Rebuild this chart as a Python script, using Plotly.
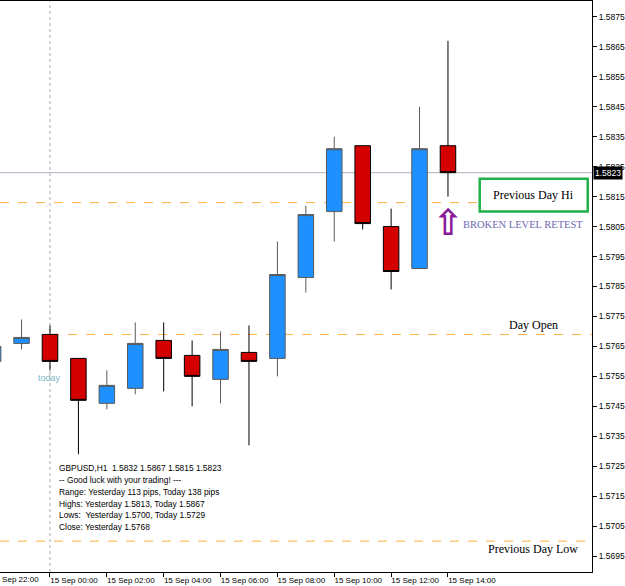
import plotly.graph_objects as go
import pandas as pd

# ---- data ----
times = ["2009-09-14 22:00", "2009-09-14 23:00", "2009-09-15 00:00", "2009-09-15 01:00",
         "2009-09-15 02:00", "2009-09-15 03:00", "2009-09-15 04:00", "2009-09-15 05:00",
         "2009-09-15 06:00", "2009-09-15 07:00", "2009-09-15 08:00", "2009-09-15 09:00",
         "2009-09-15 10:00", "2009-09-15 11:00", "2009-09-15 12:00", "2009-09-15 13:00",
         "2009-09-15 14:00"]
opens  = [1.5760, 1.5766, 1.5769, 1.5761, 1.5746, 1.5751, 1.5767, 1.5762, 1.5754,
          1.5763, 1.5761, 1.5788, 1.5810, 1.5832, 1.5805, 1.5791, 1.5832]
highs  = [1.5767, 1.5774, 1.5772, 1.5761, 1.5757, 1.5773, 1.5773, 1.5767, 1.5770,
          1.5772, 1.5800, 1.5812, 1.5835, 1.5832, 1.5811, 1.5845, 1.5867]
lows   = [1.5757, 1.5764, 1.5757, 1.5729, 1.5744, 1.5749, 1.5750, 1.5745, 1.5746,
          1.5732, 1.5755, 1.5783, 1.5800, 1.5804, 1.5784, 1.5791, 1.5815]
closes = [1.5765, 1.5768, 1.5760, 1.5747, 1.5752, 1.5766, 1.5761, 1.5755, 1.5764,
          1.5760, 1.5789, 1.5809, 1.5831, 1.5806, 1.5790, 1.5831, 1.5823]

x_tick_times = ["2009-09-14 22:00", "2009-09-15 00:00", "2009-09-15 02:00", "2009-09-15 04:00",
                "2009-09-15 06:00", "2009-09-15 08:00", "2009-09-15 10:00", "2009-09-15 12:00",
                "2009-09-15 14:00"]
x_tick_labels = ["14 Sep 22:00", "15 Sep 00:00", "15 Sep 02:00", "15 Sep 04:00",
                 "15 Sep 06:00", "15 Sep 08:00", "15 Sep 10:00", "15 Sep 12:00",
                 "15 Sep 14:00"]
y_tick_vals = [1.5695, 1.5705, 1.5715, 1.5725, 1.5735, 1.5745, 1.5755, 1.5765, 1.5775,
               1.5785, 1.5795, 1.5805, 1.5815, 1.5825, 1.5835, 1.5845, 1.5855, 1.5865, 1.5875]
y_tick_labels = ["1.5695", "1.5705", "1.5715", "1.5725", "1.5735", "1.5745", "1.5755",
                 "1.5765", "1.5775", "1.5785", "1.5795", "1.5805", "1.5815", "1.5825",
                 "1.5835", "1.5845", "1.5855", "1.5865", "1.5875"]

prev_day_hi = 1.5813
prev_day_low = 1.5700
day_open = 1.5769
bid = 1.5823
day_start = "2009-09-15 00:00"

info_lines = ["GBPUSD,H1  1.5832 1.5867 1.5815 1.5823",
              "-- Good luck with your trading! ---",
              "Range: Yesterday 113 pips, Today 138 pips",
              "Highs: Yesterday 1.5813, Today 1.5867",
              "Lows:  Yesterday 1.5700, Today 1.5729",
              "Close: Yesterday 1.5768"]

x_range = ["2009-09-14 22:14:30", "2009-09-15 19:04:00"]
y_range = [1.56897, 1.58803]

# ---- figure ----
fig = go.Figure()
fig.add_trace(go.Candlestick(
    x=times, open=opens, high=highs, low=lows, close=closes,
    increasing=dict(fillcolor="#1E90FF", line=dict(color="#5A5A5A", width=1)),
    decreasing=dict(fillcolor="#D40000", line=dict(color="#000000", width=1)),
    whiskerwidth=0, hoverinfo="skip", showlegend=False,
))

shapes = []
# day separator
shapes.append(dict(type="line", xref="x", yref="paper", x0=day_start, x1=day_start,
                   y0=0, y1=1, line=dict(color="#A8A8A8", width=1, dash="dot"), layer="below"))
# bid line
shapes.append(dict(type="line", xref="paper", yref="y", x0=0, x1=1, y0=bid, y1=bid,
                   line=dict(color="#A8B4C0", width=1), layer="below"))
# previous day hi / low
for lvl in (prev_day_hi, prev_day_low):
    shapes.append(dict(type="line", xref="paper", yref="y", x0=0, x1=1, y0=lvl, y1=lvl,
                       line=dict(color="#FFB040", width=1, dash="dash"), layer="below"))
# day open
shapes.append(dict(type="line", xref="x", yref="y", x0=day_start, x1=x_range[1],
                   y0=day_open, y1=day_open,
                   line=dict(color="#FFB040", width=1, dash="dash"), layer="below"))
# green box
shapes.append(dict(type="rect", xref="x", yref="y", x0="2009-09-15 15:07", x1="2009-09-15 18:55",
                   y0=1.58100, y1=1.58210, fillcolor="white",
                   line=dict(color="#22B04A", width=2.5), layer="above"))

serif = "Liberation Serif"
annotations = []
annotations.append(dict(x="2009-09-15 17:00", y=1.58155, xref="x", yref="y", text="Previous Day Hi",
                        showarrow=False, font=dict(family=serif, size=12, color="black")))
annotations.append(dict(x="2009-09-15 17:00", y=1.57722, xref="x", yref="y", text="Day Open",
                        showarrow=False, font=dict(family=serif, size=12, color="black")))
annotations.append(dict(x="2009-09-15 17:00", y=1.56973, xref="x", yref="y", text="Previous Day Low",
                        showarrow=False, font=dict(family=serif, size=12, color="black")))
annotations.append(dict(x="2009-09-15 14:28", y=1.58057, xref="x", yref="y", xanchor="left",
                        text="BROKEN LEVEL RETEST", showarrow=False,
                        font=dict(family=serif, size=10.5, color="#6A6AB0")))
annotations.append(dict(x="2009-09-15 14:00", y=1.58062, xref="x", yref="y", text="<b>⇧</b>",
                        showarrow=False, font=dict(family="DejaVu Sans", size=36, color="#8A1A9A")))
annotations.append(dict(x=day_start, y=1.57546, xref="x", yref="y", text="today",
                        showarrow=False, font=dict(family="Liberation Sans", size=9, color="#80B8C8")))
# info text
for k, line in enumerate(info_lines):
    annotations.append(dict(x=57 / 592, y=1 - (468 + 11.8 * k) / 572, xref="paper", yref="paper",
                            xanchor="left", yanchor="middle", text=line, showarrow=False,
                            font=dict(family="Liberation Sans", size=8.4, color="black")))
# bid label
annotations.append(dict(x=1, y=bid, xref="paper", yref="y", xanchor="left", xshift=1,
                        text=f"{bid:.4f}", showarrow=False, bgcolor="black", borderpad=1,
                        font=dict(family="Liberation Sans", size=8.5, color="white")))
# first (partially visible) time label, left of the plotted range
t0 = pd.Timestamp(x_range[0]); t1 = pd.Timestamp(x_range[1])
tf = pd.Timestamp(x_tick_times[0])
annotations.append(dict(x=(tf - t0) / (t1 - t0), y=0, xref="paper", yref="paper",
                        xanchor="left", yanchor="top", xshift=-4, yshift=-1, text=x_tick_labels[0],
                        showarrow=False, font=dict(family="Liberation Sans", size=8, color="black")))

fig.update_layout(
    width=625, height=586,
    margin=dict(l=0, r=33, t=1, b=14),
    paper_bgcolor="white", plot_bgcolor="white",
    showlegend=False, boxgap=0.22,
    shapes=shapes, annotations=annotations,
    xaxis=dict(type="date", range=x_range, rangeslider=dict(visible=False),
               tickvals=x_tick_times[1:], ticktext=x_tick_labels[1:],
               showgrid=False, zeroline=False, showline=True, linecolor="black", linewidth=1,
               mirror=True, ticks="outside", ticklen=4, tickcolor="black",
               ticklabelshift=24, ticklabelstandoff=-4,
               tickfont=dict(family="Liberation Sans", size=8, color="black")),
    yaxis=dict(range=y_range, side="right", tickvals=y_tick_vals, ticktext=y_tick_labels,
               showgrid=False, zeroline=False, showline=True, linecolor="black", linewidth=1,
               ticks="outside", ticklen=4, tickcolor="black",
               tickfont=dict(family="Liberation Sans", size=8.5, color="black")),
)

fig.write_html("out.html")
